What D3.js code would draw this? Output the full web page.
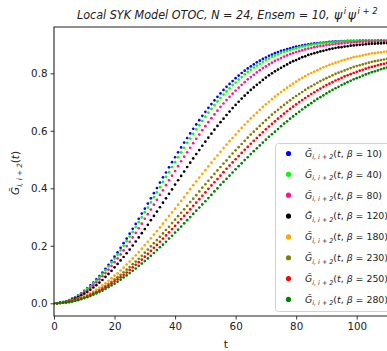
<!DOCTYPE html>
<html><head><meta charset="utf-8">
<script src="https://cdn.jsdelivr.net/npm/d3@7"></script>
<style>body{margin:0;background:#fff}svg{display:block}</style>
</head><body><svg id="c" width="387" height="351"></svg>
<script>
// time grid t = 0,1,...,110
const tGrid = d3.range(0, 111);
const betas = [10, 40, 80, 120, 180, 230, 250, 280];
const xTicks = [0, 20, 40, 60, 80, 100];
const yTicks = [0.0, 0.2, 0.4, 0.6, 0.8];

const G_b10 = [0,0,.002,.004,.007,.011,.016,.021,.028,.035,
.043,.052,.062,.072,.083,.095,.107,.120,.134,.148,
.162,.177,.193,.209,.225,.242,.259,.276,.294,.312,
.329,.347,.365,.383,.401,.420,.438,.455,.473,.491,
.508,.525,.542,.559,.575,.591,.607,.622,.637,.652,
.666,.680,.693,.706,.718,.730,.742,.753,.763,.773,
.783,.792,.801,.809,.817,.824,.831,.838,.844,.850,
.855,.861,.865,.870,.874,.878,.881,.884,.887,.890,
.893,.895,.897,.899,.901,.902,.904,.905,.906,.907,
.908,.909,.910,.911,.911,.912,.912,.913,.913,.913,
.913,.914,.914,.914,.914,.914,.914,.915,.915,.915,.915];
const G_b40 = [0,0,.002,.004,.007,.010,.015,.020,.027,.033,
.041,.050,.059,.069,.079,.091,.102,.115,.128,.142,
.155,.169,.184,.200,.216,.232,.248,.265,.282,.299,
.317,.333,.351,.369,.386,.404,.422,.440,.456,.474,
.491,.508,.525,.541,.558,.573,.589,.605,.619,.634,
.649,.663,.676,.689,.702,.714,.726,.737,.748,.759,
.768,.778,.787,.796,.805,.812,.820,.827,.833,.840,
.846,.851,.857,.862,.866,.871,.875,.878,.881,.884,
.887,.890,.893,.895,.897,.899,.901,.902,.904,.905,
.906,.907,.908,.909,.910,.911,.911,.912,.912,.913,
.913,.913,.913,.914,.914,.914,.914,.914,.914,.915,.915];
const G_b80 = [0,0,.002,.004,.006,.010,.014,.019,.024,.031,
.038,.045,.054,.063,.073,.083,.094,.105,.117,.130,
.143,.156,.170,.184,.199,.214,.229,.245,.261,.277,
.294,.310,.326,.343,.360,.377,.393,.411,.428,.444,
.460,.477,.494,.510,.525,.541,.557,.572,.587,.602,
.616,.630,.644,.657,.670,.683,.695,.707,.718,.729,
.740,.750,.760,.769,.779,.787,.795,.803,.811,.818,
.824,.831,.837,.843,.848,.853,.858,.862,.867,.870,
.874,.877,.880,.883,.886,.888,.891,.893,.895,.896,
.898,.899,.901,.902,.903,.904,.905,.906,.907,.908,
.908,.909,.909,.910,.910,.910,.910,.910,.911,.911,.911];
const G_b120 = [0,0,.001,.003,.005,.008,.012,.016,.021,.027,
.033,.039,.047,.055,.063,.072,.081,.092,.102,.113,
.125,.137,.149,.161,.174,.187,.201,.215,.229,.244,
.258,.273,.289,.304,.319,.334,.350,.365,.381,.396,
.413,.428,.443,.458,.474,.489,.504,.519,.533,.548,
.562,.576,.590,.604,.617,.630,.642,.655,.667,.679,
.690,.701,.712,.722,.732,.742,.751,.760,.768,.777,
.785,.793,.800,.807,.813,.819,.825,.831,.837,.842,
.846,.851,.856,.859,.864,.867,.870,.873,.876,.878,
.881,.884,.886,.888,.890,.891,.893,.894,.896,.897,
.898,.899,.900,.901,.902,.903,.903,.904,.904,.905,.905];
const G_b180 = [0,0,.001,.003,.004,.006,.009,.012,.016,.020,
.025,.030,.035,.041,.048,.055,.062,.070,.078,.087,
.096,.104,.114,.124,.135,.145,.156,.167,.178,.190,
.202,.214,.226,.239,.251,.264,.277,.290,.304,.316,
.329,.343,.356,.369,.383,.397,.411,.424,.437,.450,
.463,.476,.489,.502,.514,.527,.540,.552,.564,.575,
.587,.599,.610,.621,.632,.643,.653,.663,.673,.683,
.692,.701,.710,.719,.727,.735,.742,.750,.757,.764,
.771,.778,.784,.790,.796,.801,.806,.811,.816,.821,
.825,.829,.833,.837,.840,.844,.847,.850,.853,.856,
.858,.860,.862,.865,.867,.869,.870,.872,.873,.875,.876];
const G_b230 = [0,0,.001,.002,.004,.005,.008,.011,.014,.017,
.021,.026,.031,.036,.041,.047,.054,.061,.068,.075,
.083,.091,.099,.108,.117,.126,.136,.145,.155,.165,
.176,.187,.198,.209,.220,.231,.243,.255,.266,.279,
.291,.303,.315,.327,.339,.352,.364,.376,.389,.402,
.414,.426,.438,.450,.462,.474,.486,.497,.509,.521,
.532,.543,.554,.565,.576,.587,.597,.607,.617,.627,
.637,.646,.656,.665,.673,.682,.690,.698,.706,.714,
.721,.728,.735,.742,.749,.755,.761,.767,.773,.778,
.783,.788,.793,.798,.802,.806,.810,.814,.818,.822,
.825,.828,.831,.834,.837,.840,.842,.844,.846,.848,.850];
const G_b250 = [0,0,.001,.002,.003,.005,.007,.010,.013,.016,
.019,.024,.028,.033,.038,.043,.049,.056,.062,.069,
.076,.083,.091,.099,.107,.116,.125,.134,.143,.152,
.162,.172,.182,.193,.203,.214,.225,.236,.247,.258,
.269,.281,.293,.304,.315,.327,.339,.350,.362,.374,
.386,.398,.410,.421,.432,.444,.456,.468,.479,.490,
.501,.512,.523,.534,.544,.555,.565,.575,.585,.595,
.605,.615,.624,.633,.642,.651,.660,.668,.676,.684,
.692,.700,.707,.714,.721,.728,.734,.741,.747,.753,
.759,.764,.769,.775,.779,.784,.789,.793,.797,.801,
.805,.809,.812,.816,.820,.822,.825,.828,.831,.833,.836];
const G_b280 = [0,0,.001,.002,.003,.004,.006,.009,.011,.014,
.018,.021,.025,.030,.034,.039,.044,.050,.056,.062,
.068,.075,.082,.090,.097,.105,.113,.121,.130,.138,
.147,.156,.165,.175,.185,.195,.204,.214,.225,.235,
.246,.256,.267,.278,.289,.300,.311,.322,.333,.344,
.355,.366,.377,.389,.400,.412,.422,.433,.444,.455,
.466,.477,.487,.498,.508,.519,.529,.539,.549,.559,
.569,.579,.588,.597,.606,.616,.625,.633,.642,.650,
.658,.666,.674,.682,.689,.696,.704,.711,.717,.723,
.730,.736,.742,.748,.753,.759,.764,.769,.774,.779,
.783,.787,.792,.796,.800,.804,.807,.810,.814,.817,.820];

const seriesValues = [G_b10, G_b40, G_b80, G_b120, G_b180, G_b230, G_b250, G_b280];
const colors = ["#0000ff", "#00ff00", "#ff1493", "#000000", "#ffa500", "#808000", "#ff0000", "#008000"];

const svg = d3.select("#c");
const FONT = "'DejaVu Sans', sans-serif";
const L = 54, T = 27, B = 316, R = 400;
const x = d3.scaleLinear().domain([0, 114.3]).range([L, R]);
const y = d3.scaleLinear().domain([-0.0442, 0.961]).range([B, T]);

svg.append("rect").attr("width", 387).attr("height", 351).attr("fill", "#fff");

svg.append("defs").append("clipPath").attr("id", "plotclip")
  .append("rect").attr("x", L).attr("y", T).attr("width", R - L).attr("height", B - T);

// points
const pts = svg.append("g").attr("clip-path", "url(#plotclip)");
seriesValues.forEach((vals, k) => {
  pts.append("g").selectAll("circle").data(vals).join("circle")
    .attr("cx", (d, i) => x(tGrid[i]))
    .attr("cy", d => y(d))
    .attr("r", 1.35)
    .attr("fill", colors[k]);
});

// axes
const xAxis = svg.append("g").attr("transform", `translate(0,${B})`)
  .call(d3.axisBottom(x).tickValues(xTicks).tickSize(3.5).tickPadding(3).tickFormat(d3.format("d")));
const yAxis = svg.append("g").attr("transform", `translate(${L},0)`)
  .call(d3.axisLeft(y).tickValues(yTicks).tickSize(3.5).tickPadding(3).tickFormat(d3.format(".1f")));
[xAxis, yAxis].forEach(a => {
  a.select(".domain").remove();
  a.selectAll("line").attr("stroke", "#222").attr("stroke-width", 0.9);
  a.selectAll("text").attr("font-family", FONT).attr("font-size", 10.3).attr("fill", "#222");
});

// spines
svg.append("path")
  .attr("d", `M${R},${T}H${L}V${B}H${R}`)
  .attr("fill", "none").attr("stroke", "#222").attr("stroke-width", 1.1);

// math-like text helper
function mathText(g, parts, size) {
  const txt = g.append("text").attr("font-family", FONT).attr("font-size", size).attr("fill", "#222");
  parts.forEach(p => {
    const ts = txt.append("tspan").text(p.t);
    if (p.it) ts.attr("font-style", "italic");
    if (p.sub) ts.attr("font-size", size * 0.68).attr("dy", size * 0.28);
    if (p.back) ts.attr("dy", p.back * size);
  });
  return txt;
}

// title
const title = svg.append("text")
  .attr("x", 77).attr("y", 19)
  .attr("font-family", FONT).attr("font-size", 12.5).attr("font-style", "italic").attr("fill", "#222");
title.append("tspan").text("Local SYK Model OTOC, N = 24,  Ensem = 10, ")
  .attr("textLength", 256).attr("lengthAdjust", "spacingAndGlyphs");
title.append("tspan").text("\u03c8").attr("dx", 1);
title.append("tspan").text("i").attr("font-size", 8.5).attr("dy", -5).attr("dx", 1.5);
title.append("tspan").text("\u03c8").attr("dy", 5).attr("dx", 1.5);
title.append("tspan").text("i + 2").attr("font-size", 8.5).attr("dy", -5).attr("dx", 1.5);

// axis labels
svg.append("text").attr("x", 226).attr("y", 348).attr("text-anchor", "middle")
  .attr("font-family", FONT).attr("font-size", 11).attr("fill", "#222").text("t");

const yl = svg.append("g").attr("transform", "translate(19,173) rotate(-90)");
mathText(yl, [{t: "G\u0303", it: true}, {t: "i, i + 2", it: true, sub: true}, {t: "(", back: -0.28}, {t: "t", it: true}, {t: ")"}], 10.5)
  .attr("text-anchor", "middle");

// legend
const lg = svg.append("g");
lg.append("rect").attr("x", 275.5).attr("y", 143.5).attr("width", 140).attr("height", 168)
  .attr("rx", 3).attr("fill", "#fff").attr("fill-opacity", 0.85).attr("stroke", "#cccccc").attr("stroke-width", 0.9);
betas.forEach((b, i) => {
  const yy = 153.5 + i * 20.85;
  lg.append("circle").attr("cx", 288.5).attr("cy", yy).attr("r", 2.6).attr("fill", colors[i]);
  const g = lg.append("g").attr("transform", `translate(305,${yy + 3.3})`);
  mathText(g, [{t: "G\u0303", it: true}, {t: "i, i + 2", it: true, sub: true},
    {t: "(", back: -0.28}, {t: "t", it: true}, {t: ", "}, {t: "\u03b2", it: true}, {t: " = " + b + ")"}], 9.4);
});
</script></body></html>
